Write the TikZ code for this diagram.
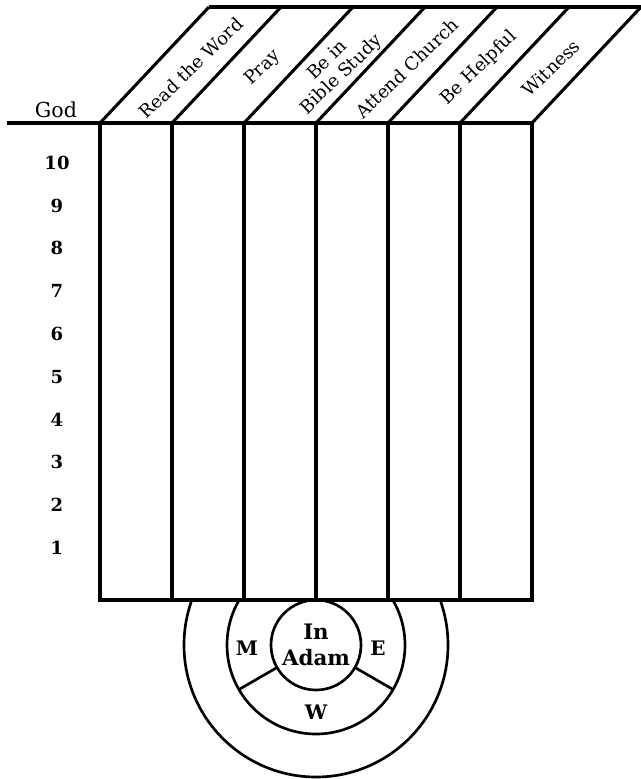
\documentclass[tikz,border=0pt]{standalone}
\usepackage{fontspec}
\setmainfont{DejaVu Serif}
\begin{document}
\begin{tikzpicture}[x=0.75pt,y=-0.75pt,
    boxline/.style={line width=3pt},
    slantline/.style={line width=2.3pt},
    ringline/.style={line width=2pt},
    colhead/.style={rotate=44,align=center,font=\fontsize{13.5}{15}\selectfont},
    level/.style={font=\bfseries\fontsize{13.5}{16}\selectfont},
    part/.style={font=\bfseries\fontsize{15}{18}\selectfont}]
    \useasboundingbox (0,0) rectangle (641,779);
    \coordinate (adam) at (316,645);                        % centre of the rings
    % outer rings, cut off by the chart
    \begin{scope}
        \clip (0,600) rectangle (641,779);
        \draw[ringline] (adam) circle (132);
        \draw[ringline] (adam) circle (89);
    \end{scope}
    \draw[ringline] (adam) circle (45);                     % inner ring
    \draw[ringline,shift={(adam)}] (150:45) -- (150:89);    % spoke M|W
    \draw[ringline,shift={(adam)}] (30:45) -- (30:89);      % spoke E|W
    % chart
    \draw[boxline] (7,123) -- (532,123);                    % line under God
    \draw[boxline] (100,123) rectangle (532,600);
    \foreach \i in {1,...,5}
        \draw[boxline] (100+72*\i,123) -- (100+72*\i,600);  % columns
    \foreach \i in {0,...,6}
        \draw[slantline] (100+72*\i,123) -- (209+72*\i,7);  % slanted heads
    \draw[boxline] (209,7) -- (641,7);
    % texts
    \foreach \t [count=\i from 0] in {Read the Word,Pray,{Be in\\Bible Study},Attend Church,Be Helpful,Witness}
        \node[colhead] (head\i) at (191+72*\i,68) {\t};
    \node[font=\fontsize{15.5}{18}\selectfont,anchor=base] (god) at (56,117) {God};
    \foreach \n in {1,...,10}
        \node[level] (lvl\n) at (57,{590.8-42.8*\n}) {\n};
    \node[align=center,font=\bfseries\fontsize{16}{20}\selectfont] (inadam) at (adam) {In\\Adam};
    \node[part] (m) at (247,648) {M};
    \node[part] (e) at (378,648) {E};
    \node[part] (w) at (316,712) {W};
\end{tikzpicture}
\end{document}
